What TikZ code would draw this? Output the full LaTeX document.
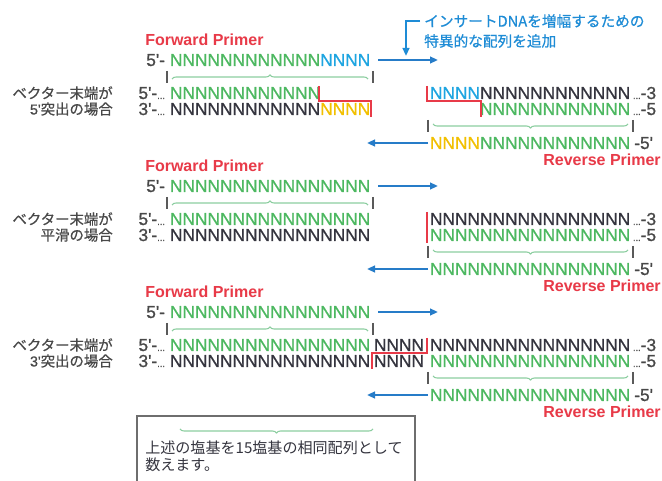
\documentclass[tikz,border=0pt]{standalone}
\usepackage{fontspec}
\setmainfont{Liberation Sans}
\newfontfamily\seqfam{Liberation Sans}[FakeBold=0.9]
\newfontfamily\jp{Noto Sans CJK JP}
\newfontfamily\jpm{Noto Sans CJK JP}[FakeBold=0.6]
\newfontfamily\lat{Liberation Sans}[FakeBold=0.6]
\usetikzlibrary{arrows.meta,decorations.pathreplacing}
\definecolor{ngreen}{RGB}{76,184,96}
\definecolor{nblue}{RGB}{30,165,225}
\definecolor{nyellow}{RGB}{242,192,0}
\definecolor{nblack}{RGB}{52,52,62}
\definecolor{pred}{RGB}{232,58,72}
\definecolor{arrblue}{RGB}{38,124,200}
\definecolor{annblue}{RGB}{30,140,214}
\definecolor{brgreen}{RGB}{140,206,160}
\definecolor{tickgray}{RGB}{90,90,90}
\definecolor{labgray}{RGB}{72,72,72}
\definecolor{boxgray}{RGB}{110,110,110}
\newcommand\seqfont{\seqfam\fontsize{13}{13}\selectfont}
\newcommand\dotsfont{\fontsize{7}{7}\selectfont}
\newcommand\dnadots{{\dotsfont...}}
\tikzset{
  seq/.style={inner sep=0pt, outer sep=0pt, anchor=base west, font=\seqfont},
  endlab/.style={inner sep=0pt, outer sep=0pt, anchor=base east, font=\seqfont, text=labgray},
  tailab/.style={inner sep=0pt, outer sep=0pt, anchor=base west, font=\seqfont, text=labgray},
  primerlab/.style={inner sep=0pt, anchor=base west, font=\bfseries\fontsize{12}{12}\selectfont, text=pred},
  jplab/.style={inner sep=0pt, anchor=east, font=\jpm\fontsize{10.8}{12}\selectfont, text=labgray},
  annlab/.style={inner sep=0pt, anchor=west, font=\jpm\fontsize{11}{13}\selectfont, text=annblue},
  leglab/.style={inner sep=0pt, anchor=west, font=\jp\fontsize{11.3}{13}\selectfont, text=nblack},
  barrow/.style={draw=arrblue, line width=1.5pt, -{Triangle[length=6pt,width=5pt]}},
  stepline/.style={draw=pred, line width=0.9pt},
  tickline/.style={draw=tickgray, line width=0.9pt},
  bracegreen/.style={draw=brgreen, line width=0.8pt, decorate, decoration={brace, amplitude=3pt}},
}
\begin{document}
\begin{tikzpicture}[x=0.75pt,y=-0.75pt]
\useasboundingbox[fill=white] (0,0) rectangle (662,481);

% ---------- annotation ----------
\node[annlab] (ann1) at (424,21) {インサートDNAを増幅するための};
\node[annlab] (ann2) at (424,41) {特異的な配列を追加};
\coordinate (annc) at (406,21);
\coordinate (annt) at (406,56);
\draw[draw=annblue, line width=1.8pt, -{Triangle[length=6pt,width=5pt]}] ([xshift=-3pt]ann1.west) -- (annc) -- (annt);

% ================= Section 1 (c=93) =================
\node[primerlab] (fp1) at (145,46) {Forward Primer};
\node[endlab] (p1l) at (165,66) {5'-};
\node[seq,text=ngreen] (p1a) at (170,66) {NNNNNNNNNNNN};
\node[seq,text=nblue] (p1b) at (p1a.base east) {NNNN};
\coordinate (a1s) at (378,60); \coordinate (a1e) at (438,60);
\draw[barrow] (a1s) -- (a1e);
\draw[tickline] (167,71) -- (167,83);
\draw[tickline] (373,71) -- (373,83);
\draw[bracegreen] (172,79) -- (368,79);

\node[jplab] (j1a) at (113,93) {ベクター末端が};
\node[jplab] (j1b) at (113,109) {{\lat 5'}突出の場合};
\node[endlab] (v1l1) at (165,99) {5'-\dnadots};
\node[seq,text=ngreen] (v1a) at (170,99) {NNNNNNNNNNNN};
\node[endlab] (v1l2) at (165,115) {3'-\dnadots};
\node[seq,text=nblack] (v1b) at (170,115) {NNNNNNNNNNNN};
\node[seq,text=nyellow] (v1c) at (v1b.base east) {NNNN};
\draw[stepline] (319,86) -- (319,101) -- (371,101) -- (371,117);

\node[seq,text=nblue] (r1a) at (430,99) {NNNN};
\node[seq,text=nblack] (r1b) at (r1a.base east) {NNNNNNNNNNNN};
\node[tailab] (r1c) at ([xshift=2pt]r1b.base east) {\dnadots-3};
\node[seq,text=ngreen] (r1d) at (480.06,115) {NNNNNNNNNNNN};
\node[tailab] (r1e) at ([xshift=2pt]r1d.base east) {\dnadots-5};
\draw[stepline] (427,86) -- (427,101) -- (481,101) -- (481,117);

\draw[tickline] (428,120) -- (428,132);
\draw[tickline] (633,120) -- (633,132);
\draw[bracegreen] (628,124) -- (433,124);
\coordinate (ra1s) at (428,143); \coordinate (ra1e) at (367,143);
\draw[barrow] (ra1s) -- (ra1e);
\node[seq,text=nyellow] (q1a) at (430,149) {NNNN};
\node[seq,text=ngreen] (q1b) at (q1a.base east) {NNNNNNNNNNNN};
\node[tailab] (q1c) at ([xshift=3pt]q1b.base east) {-5'};
\node[primerlab,anchor=base east] (rp1) at (661,166) {Reverse Primer};

% ================= Section 2 (c=219) =================
\node[primerlab] (fp2) at (145,172) {Forward Primer};
\node[endlab] (p2l) at (165,192) {5'-};
\node[seq,text=ngreen] (p2a) at (170,192) {NNNNNNNNNNNNNNNN};
\coordinate (a2s) at (378,186); \coordinate (a2e) at (438,186);
\draw[barrow] (a2s) -- (a2e);
\draw[tickline] (167,197) -- (167,209);
\draw[tickline] (373,197) -- (373,209);
\draw[bracegreen] (172,205) -- (368,205);

\node[jplab] (j2a) at (113,219) {ベクター末端が};
\node[jplab] (j2b) at (113,235) {平滑の場合};
\node[endlab] (v2l1) at (165,225) {5'-\dnadots};
\node[seq,text=ngreen] (v2a) at (170,225) {NNNNNNNNNNNNNNNN};
\node[endlab] (v2l2) at (165,241) {3'-\dnadots};
\node[seq,text=nblack] (v2b) at (170,241) {NNNNNNNNNNNNNNNN};

\node[seq,text=nblack] (r2a) at (430,225) {NNNNNNNNNNNNNNNN};
\node[tailab] (r2c) at ([xshift=2pt]r2a.base east) {\dnadots-3};
\node[seq,text=ngreen] (r2d) at (430,241) {NNNNNNNNNNNNNNNN};
\node[tailab] (r2e) at ([xshift=2pt]r2d.base east) {\dnadots-5};
\draw[stepline] (427,212) -- (427,243);

\draw[tickline] (428,246) -- (428,258);
\draw[tickline] (633,246) -- (633,258);
\draw[bracegreen] (628,250) -- (433,250);
\coordinate (ra2s) at (428,269); \coordinate (ra2e) at (367,269);
\draw[barrow] (ra2s) -- (ra2e);
\node[seq,text=ngreen] (q2b) at (430,275) {NNNNNNNNNNNNNNNN};
\node[tailab] (q2c) at ([xshift=3pt]q2b.base east) {-5'};
\node[primerlab,anchor=base east] (rp2) at (661,292) {Reverse Primer};

% ================= Section 3 (c=345) =================
\node[primerlab] (fp3) at (145,298) {Forward Primer};
\node[endlab] (p3l) at (165,318) {5'-};
\node[seq,text=ngreen] (p3a) at (170,318) {NNNNNNNNNNNNNNNN};
\coordinate (a3s) at (378,312); \coordinate (a3e) at (438,312);
\draw[barrow] (a3s) -- (a3e);
\draw[tickline] (167,323) -- (167,335);
\draw[tickline] (373,323) -- (373,335);
\draw[bracegreen] (172,331) -- (368,331);

\node[jplab] (j3a) at (113,345) {ベクター末端が};
\node[jplab] (j3b) at (113,361) {{\lat 3'}突出の場合};
\node[endlab] (v3l1) at (165,351) {5'-\dnadots};
\node[seq,text=ngreen] (v3a) at (170,351) {NNNNNNNNNNNNNNNN};
\node[seq,text=nblack] (v3m) at (374,351) {NNNN};
\node[endlab] (v3l2) at (165,367) {3'-\dnadots};
\node[seq,text=nblack] (v3b) at (170,367) {NNNNNNNNNNNNNNNN};
\node[seq,text=nblack] (v3n) at (374,367) {NNNN};
\draw[stepline] (427,338) -- (427,353) -- (372,353) -- (372,369);

\node[seq,text=nblack] (r3a) at (430,351) {NNNNNNNNNNNNNNNN};
\node[tailab] (r3c) at ([xshift=2pt]r3a.base east) {\dnadots-3};
\node[seq,text=ngreen] (r3d) at (430,367) {NNNNNNNNNNNNNNNN};
\node[tailab] (r3e) at ([xshift=2pt]r3d.base east) {\dnadots-5};

\draw[tickline] (428,372) -- (428,384);
\draw[tickline] (633,372) -- (633,384);
\draw[bracegreen] (628,376) -- (433,376);
\coordinate (ra3s) at (428,395); \coordinate (ra3e) at (367,395);
\draw[barrow] (ra3s) -- (ra3e);
\node[seq,text=ngreen] (q3b) at (430,401) {NNNNNNNNNNNNNNNN};
\node[tailab] (q3c) at ([xshift=3pt]q3b.base east) {-5'};
\node[primerlab,anchor=base east] (rp3) at (661,418) {Reverse Primer};

% ================= Legend =================
\draw[draw=boxgray, line width=1.1pt] (137,481) -- (137,416) -- (415,416) -- (415,481);
\draw[bracegreen] (373,429) -- (180,429);
\node[leglab] (lg1) at (145,448) {上述の塩基を15塩基の相同配列として};
\node[leglab] (lg2) at (145,465) {数えます。};
\end{tikzpicture}
\end{document}
